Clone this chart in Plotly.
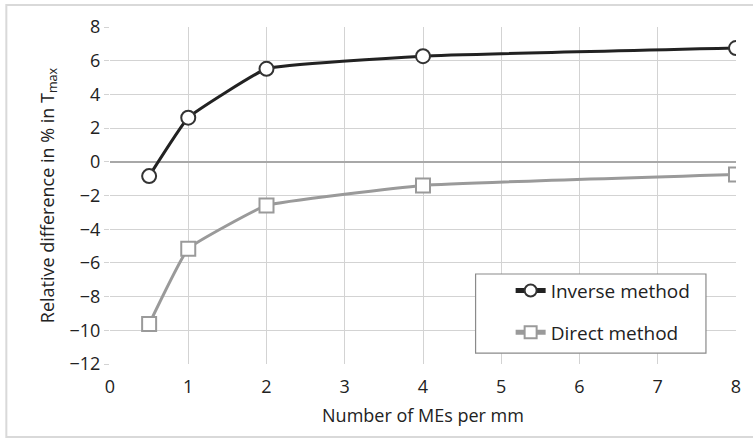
import plotly.graph_objects as go

x_vals = [0.5, 1, 2, 4, 8]
inverse_vals = [-0.85, 2.62, 5.52, 6.27, 6.75]
direct_vals = [-9.63, -5.16, -2.59, -1.4, -0.75]
series_names = ["Inverse method", "Direct method"]
x_ticks = [0, 1, 2, 3, 4, 5, 6, 7, 8]
y_ticks = [-12, -10, -8, -6, -4, -2, 0, 2, 4, 6, 8]
y_tick_text = [("\u2212" + str(abs(v))) if v < 0 else str(v) for v in y_ticks]

FONT = "Open Sans"

fig = go.Figure()
fig.add_trace(go.Scatter(
    x=x_vals, y=inverse_vals, name=series_names[0], mode="lines+markers", legendgroup="a",
    line=dict(color="#222222", width=3, shape="spline", smoothing=0.3),
    marker=dict(symbol="circle", size=14, color="white", line=dict(color="#333333", width=2)),
))
fig.add_trace(go.Scatter(
    x=x_vals, y=direct_vals, name=series_names[1], mode="lines+markers", legendgroup="b",
    line=dict(color="#9a9a9a", width=3, shape="spline", smoothing=0.3),
    marker=dict(symbol="square", size=14, color="white", line=dict(color="#9a9a9a", width=2)),
))

fig.update_layout(
    width=753, height=440,
    margin=dict(l=110, r=15, t=27, b=76),
    paper_bgcolor="white", plot_bgcolor="white",
    font=dict(family=FONT, size=18, color="#222222"),
    showlegend=True,
    legend=dict(
        x=0.640, y=0.274, xanchor="left", yanchor="top",
        bgcolor="rgba(0,0,0,0)", borderwidth=0,
        font=dict(size=19, family=FONT, color="#222222"),
        tracegroupgap=14, itemwidth=30, itemsizing="constant",
    ),
    xaxis=dict(
        range=[0, 8], tickvals=x_ticks, showgrid=True, gridcolor="#d3d3d3", gridwidth=1,
        zeroline=False, showline=False, ticks="outside", ticklen=6, tickcolor="rgba(0,0,0,0)",
        tickfont=dict(size=18),
        title=dict(text="Number of MEs per mm", font=dict(size=18), standoff=12),
        fixedrange=True,
    ),
    yaxis=dict(
        range=[-12, 8], tickvals=y_ticks, ticktext=y_tick_text, showgrid=True,
        gridcolor="#d3d3d3", gridwidth=1,
        zeroline=True, zerolinecolor="#a8a8a8", zerolinewidth=1.5,
        showline=False, ticks="outside", ticklen=5, tickcolor="#d3d3d3",
        tickfont=dict(size=18),
        title=dict(text="Relative difference in % in T<sub>max</sub>", font=dict(size=18), standoff=10),
        fixedrange=True,
    ),
    shapes=[
        dict(
            type="rect", xref="paper", yref="paper",
            x0=-0.1656, x1=1.05, y0=-0.2166, y1=1.0653,
            line=dict(color="#d9d9d9", width=2), fillcolor="rgba(0,0,0,0)", layer="below",
        ),
        dict(
            type="rect", xref="paper", yref="paper",
            x0=0.584, x1=0.952, y0=0.032, y1=0.267,
            line=dict(color="#8a8a8a", width=1.2), fillcolor="white", layer="above",
        ),
    ],
)

fig.write_html(
    "out.html",
    config={"displayModeBar": False},
    post_script="document.body.style.margin='0';",
)
